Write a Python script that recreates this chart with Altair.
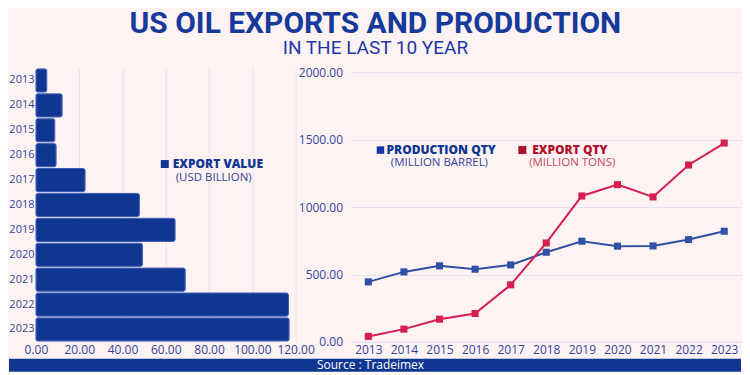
import altair as alt
import pandas as pd

# ---- data ----
years = ["2013", "2014", "2015", "2016", "2017", "2018", "2019", "2020", "2021", "2022", "2023"]
export_value = [5.0, 12.1, 8.7, 9.3, 22.7, 47.8, 64.3, 49.2, 69.0, 116.7, 117.0]
production_qty = [445, 519, 564, 539, 571, 665, 747, 710, 712, 759, 821]
export_qty = [40, 94, 168, 210, 423, 734, 1083, 1167, 1076, 1313, 1476]
value_ticks = [0, 20, 40, 60, 80, 100, 120]
qty_ticks = [0, 500, 1000, 1500, 2000]

BG = "#fdf3f3"
BAR = "#0f3691"
GRID = "#e6e1ef"
LAB = "#34449a"
PROD = "#2f50a6"
EXP = "#d41f4f"
EXP_DARK = "#b0102a"
FONT = "Open Sans"
H = 274

# ---- left panel: export value bars ----
bars_df = pd.DataFrame({"year": years, "value": export_value})
left_base = alt.Chart(bars_df)

bars = left_base.mark_bar(color=BAR, cornerRadius=2, stroke="#3d5cb3", strokeWidth=1).encode(
    x=alt.X("value:Q",
            scale=alt.Scale(domain=[0, 120], nice=False),
            axis=alt.Axis(values=value_ticks, format=".2f", title=None, domain=False, ticks=False,
                          grid=True, gridColor=GRID, labelColor=LAB, labelFontSize=12,
                          labelFont=FONT, labelPadding=3, labelFlush=False)),
    y=alt.Y("year:N", sort=years,
            scale=alt.Scale(paddingInner=0.07, paddingOuter=0.03),
            axis=alt.Axis(title=None, domain=False, ticks=False, grid=False, labelColor=LAB,
                          labelFontSize=11, labelFont=FONT, labelPadding=2)),
)

leg_df = pd.DataFrame({"t": ["EXPORT VALUE"], "s": ["(USD BILLION)"]})
leg_base = alt.Chart(leg_df)
leg_sq = leg_base.mark_square(color=BAR, size=64, opacity=1).encode(
    x=alt.value(129), y=alt.value(96))
leg_t = leg_base.mark_text(align="left", baseline="middle", font=FONT, fontSize=12,
                           fontWeight=800, color=BAR).encode(
    x=alt.value(137), y=alt.value(96), text="t:N")
leg_s = leg_base.mark_text(align="center", baseline="middle", font=FONT, fontSize=11.5,
                           color=LAB).encode(
    x=alt.value(178), y=alt.value(110), text="s:N")

foot_df = pd.DataFrame({"src": ["Source : Tradeimex"]})
foot_base = alt.Chart(foot_df)
foot_rect = foot_base.mark_rect(color=BAR).encode(
    x=alt.value(-27), x2=alt.value(706), y=alt.value(291), y2=alt.value(304))
foot_text = foot_base.mark_text(align="center", baseline="middle", font=FONT, fontSize=12,
                                color="white").encode(
    x=alt.value(335), y=alt.value(297.5), text="src:N")

left = alt.layer(bars, leg_sq, leg_t, leg_s, foot_rect, foot_text).properties(width=260, height=H)

# ---- right panel: production and export quantity lines ----
lines_df = pd.DataFrame({
    "year": years * 2,
    "qty": production_qty + export_qty,
    "series": ["PRODUCTION QTY"] * len(years) + ["EXPORT QTY"] * len(years),
})

lines = alt.Chart(lines_df).mark_line(strokeWidth=2, point=alt.OverlayMarkDef(shape="square", size=50, filled=True, opacity=1)).encode(
    x=alt.X("year:O", sort=years,
            scale=alt.Scale(type="point", padding=0.5),
            axis=alt.Axis(title=None, domain=True, domainColor=GRID, ticks=False, grid=False,
                          labelColor=LAB, labelFontSize=12, labelFont=FONT, labelAngle=0,
                          labelPadding=3)),
    y=alt.Y("qty:Q",
            scale=alt.Scale(domain=[0, 2032], nice=False),
            axis=alt.Axis(values=qty_ticks, format=".2f", title=None, domain=False, ticks=False,
                          grid=True, gridColor=GRID, labelColor=LAB, labelFontSize=12,
                          labelFont=FONT, labelPadding=8)),
    color=alt.Color("series:N",
                    scale=alt.Scale(domain=["PRODUCTION QTY", "EXPORT QTY"], range=[PROD, EXP]),
                    legend=None),
    order=alt.Order("year:O"),
)

rleg_df = pd.DataFrame({
    "t": ["PRODUCTION QTY", "EXPORT QTY"],
    "s": ["(MILLION BARREL)", "(MILLION TONS)"],
})
rl = alt.Chart(rleg_df)
p_sq = rl.transform_filter(alt.datum.t == "PRODUCTION QTY").mark_square(color="#1632a8", size=56, opacity=1).encode(
    x=alt.value(30), y=alt.value(82))
p_t = rl.transform_filter(alt.datum.t == "PRODUCTION QTY").mark_text(
    align="left", baseline="middle", font=FONT, fontSize=12, fontWeight=800, color=BAR).encode(
    x=alt.value(36), y=alt.value(82), text="t:N")
p_s = rl.transform_filter(alt.datum.t == "PRODUCTION QTY").mark_text(
    align="center", baseline="middle", font=FONT, fontSize=11.5, color=LAB).encode(
    x=alt.value(89), y=alt.value(95), text="s:N")
e_sq = rl.transform_filter(alt.datum.t == "EXPORT QTY").mark_square(color=EXP_DARK, size=64, opacity=1).encode(
    x=alt.value(172), y=alt.value(82))
e_t = rl.transform_filter(alt.datum.t == "EXPORT QTY").mark_text(
    align="left", baseline="middle", font=FONT, fontSize=12, fontWeight=800, color=EXP_DARK).encode(
    x=alt.value(182), y=alt.value(82), text="t:N")
e_s = rl.transform_filter(alt.datum.t == "EXPORT QTY").mark_text(
    align="center", baseline="middle", font=FONT, fontSize=11.5, color="#c64860").encode(
    x=alt.value(222), y=alt.value(95), text="s:N")

right = alt.layer(lines, p_sq, p_t, p_s, e_sq, e_t, e_s).properties(width=392, height=H)

chart = alt.hconcat(left, right, spacing=55, bounds="flush").properties(
    title=alt.TitleParams(
        "US OIL EXPORTS AND PRODUCTION",
        subtitle="IN THE LAST 10 YEAR",
        font="Roboto",
        fontSize=30, fontWeight="bold", color="#163a9c",
        subtitleFont="Roboto",
        subtitleFontSize=19, subtitleColor="#1d37a6",
        subtitlePadding=1, anchor="middle", offset=8,
    ),
    padding=0,
).configure(background=BG).configure_view(stroke=None)

chart.save("out.html", embed_options={"renderer": "svg", "actions": False})
